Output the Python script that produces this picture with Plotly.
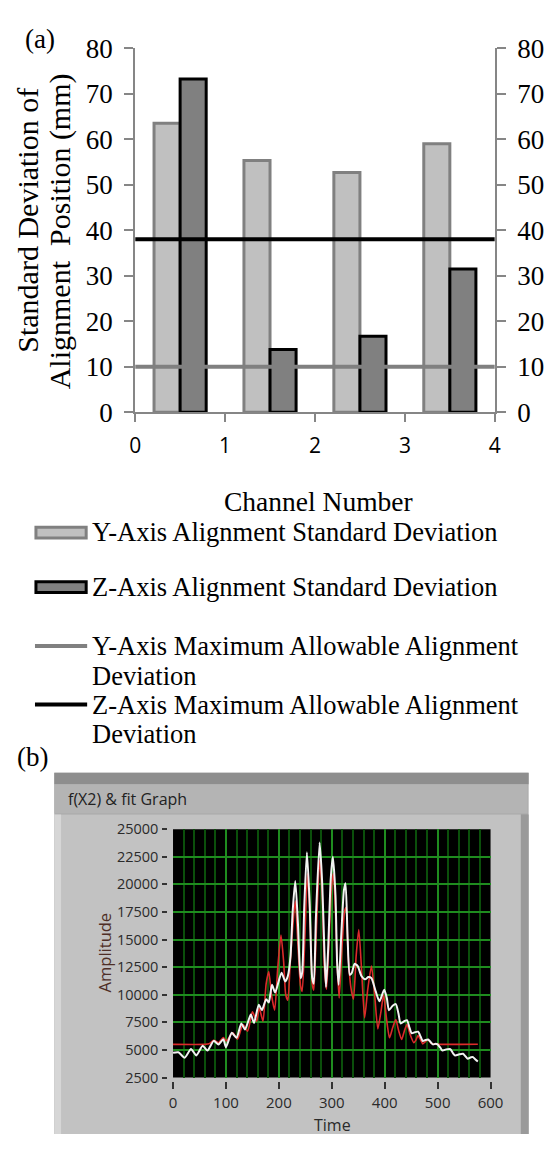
import plotly.graph_objects as go

# ---------------- Panel (a) data ----------------
channel_pos = [0.5, 1.5, 2.5, 3.5]
y_std = [63.5, 55.3, 52.7, 59.0]
z_std = [73.2, 13.8, 16.7, 31.5]
y_limit = 10
z_limit = 38
x_ticks_a = [0, 1, 2, 3, 4]
y_ticks_a = [0, 10, 20, 30, 40, 50, 60, 70, 80]

# ---------------- Panel (b) data ----------------
white_t = [0, 10, 22, 34, 44, 56, 65, 77, 86, 95, 100, 111, 120, 129, 136, 147, 153, 162, 168, 176,
           181, 187, 193, 205, 212, 217, 222, 226, 231, 236, 241, 244, 248, 253, 258, 263, 266, 270, 277, 282,
           286, 289, 293, 298, 302, 307, 310, 313, 318, 323, 326, 330, 334, 338, 343, 349, 356, 363, 369, 375,
           383, 390, 399, 404, 408, 415, 421, 426, 430, 437, 442, 447, 451, 457, 463, 468, 472, 477, 482, 487,
           491, 496, 500, 505, 509, 516, 524, 529, 533, 541, 548, 553, 557, 563, 567, 572, 576]
white_a = [4750, 4790, 4300, 5080, 4500, 5380, 4940, 5820, 5500, 5970, 5250, 6550, 6100, 7400, 6850, 8200, 7450, 9100, 8600, 9600,
           9300, 10900, 10200, 12000, 11200, 11700, 13500, 17500, 20300, 16500, 11500, 12000, 18000, 22900, 18500, 11500, 11000, 17000, 23800, 20000,
           14000, 10700, 14000, 20500, 22500, 19000, 13000, 10900, 15500, 19500, 20100, 15000, 11800, 12000, 12800, 12600, 11700, 11400, 11600, 11500,
           10300, 9400, 10450, 9700, 8600, 9000, 9150, 8300, 7400, 7600, 7700, 7000, 6500, 6600, 6650, 6200, 5800, 5900, 5950, 5700,
           5500, 5550, 5500, 5200, 4950, 5050, 5080, 4700, 4500, 4600, 4650, 4400, 4200, 4330, 4350, 4100, 3950]

red_t = [0, 60, 68, 77, 86, 95, 101, 113, 122, 132, 141, 150, 158, 163, 170, 176, 181, 186, 192, 198,
         204, 209, 213, 217, 221, 226, 231, 236, 241, 244, 249, 254, 259, 263, 266, 271, 277, 282, 286, 290,
         294, 299, 303, 307, 311, 314, 319, 324, 327, 331, 336, 341, 346, 351, 356, 362, 368, 375, 381, 387,
         393, 398, 403, 409, 415, 421, 426, 432, 437, 442, 448, 455, 459, 463, 468, 472, 477, 482, 488, 495, 576]
red_a = [5500, 5500, 5550, 5880, 5650, 6120, 5820, 6560, 5970, 7300, 6700, 8450, 7600, 8800, 7600, 11000, 12100, 10000, 8600, 12500,
         15400, 13000, 10000, 9500, 12500, 16000, 18500, 14500, 10800, 10300, 15000, 21000, 17000, 11000, 10400, 16000, 22200, 19000, 12500, 10500,
         14000, 19500, 21000, 17500, 12000, 9700, 14000, 17500, 17900, 13500, 10700, 9600, 13500, 15900, 12500, 7900, 10500, 12600, 10000, 6900,
         8500, 10000, 8000, 6100, 7000, 7750, 6800, 5950, 6700, 7300, 6400, 5650, 5900, 6300, 5900, 5550, 5750, 5950, 5600, 5520, 5520]
x_ticks_b = [0, 100, 200, 300, 400, 500, 600]
y_ticks_b = [2500, 5000, 7500, 10000, 12500, 15000, 17500, 20000, 22500, 25000]

W, H = 559, 1149
SERIF = "Liberation Serif"
SANS = "Open Sans"


def px(x):
    return x / W


def py(y):
    return 1 - y / H


fig = go.Figure()

# ---- panel (a) traces ----
fig.add_trace(go.Bar(x=channel_pos, y=y_std, name="Y-Axis Alignment Standard Deviation",
                     marker=dict(color="#c0c0c0", line=dict(color="#808080", width=3)),
                     xaxis="x", yaxis="y"))
fig.add_trace(go.Bar(x=channel_pos, y=z_std, name="Z-Axis Alignment Standard Deviation",
                     marker=dict(color="#808080", line=dict(color="#000000", width=3)),
                     xaxis="x", yaxis="y"))
fig.add_trace(go.Scatter(x=[x_ticks_a[0], x_ticks_a[-1]], y=[y_limit, y_limit], mode="lines",
                         name="Y-Axis Maximum Allowable Alignment Deviation",
                         line=dict(color="#808080", width=4), xaxis="x", yaxis="y"))
fig.add_trace(go.Scatter(x=[x_ticks_a[0], x_ticks_a[-1]], y=[z_limit, z_limit], mode="lines",
                         name="Z-Axis Maximum Allowable Alignment Deviation",
                         line=dict(color="#000000", width=4), xaxis="x", yaxis="y"))
# invisible trace for right-hand axis
fig.add_trace(go.Scatter(x=[x_ticks_a[0]], y=[y_ticks_a[0]], mode="markers", marker=dict(opacity=0),
                         hoverinfo="skip", xaxis="x", yaxis="y2"))

# ---- panel (b) traces ----
fig.add_trace(go.Scatter(x=red_t, y=red_a, mode="lines", name="fit", line_shape="spline",
                         line=dict(color="#dc2a2a", width=1.6, smoothing=0.6), xaxis="x3", yaxis="y3"))
fig.add_trace(go.Scatter(x=white_t, y=white_a, mode="lines", name="f(X2)", line_shape="spline",
                         line=dict(color="#f2f2f2", width=2, smoothing=0.6), xaxis="x3", yaxis="y3"))

axis_gray = "#868686"
fig.update_layout(
    width=W, height=H,
    margin=dict(l=0, r=0, t=0, b=0),
    paper_bgcolor="white", plot_bgcolor="white",
    showlegend=False,
    barmode="group", bargap=0.42, bargroupgap=0,
    xaxis=dict(domain=[px(133.7), px(506)], range=[0, 4], tickvals=x_ticks_a,
               showline=True, linecolor=axis_gray, linewidth=2,
               ticks="outside", tickcolor=axis_gray, tickwidth=2, ticklen=8,
               showgrid=False, zeroline=False, anchor="y",
               tickfont=dict(family=SANS, size=21, color="#000"), ticklabelstandoff=5),
    yaxis=dict(domain=[py(408), py(34)], range=[0, 80], tickvals=y_ticks_a,
               showline=True, linecolor=axis_gray, linewidth=2,
               ticks="outside", tickcolor=axis_gray, tickwidth=2, ticklen=9,
               showgrid=False, zeroline=False, anchor="x",
               tickfont=dict(family=SERIF, size=27, color="#000"), ticklabelstandoff=6),
    yaxis2=dict(overlaying="y", side="right", range=[0, 80], tickvals=y_ticks_a,
                showline=True, linecolor=axis_gray, linewidth=2,
                ticks="outside", tickcolor=axis_gray, tickwidth=2, ticklen=9,
                showgrid=False, zeroline=False, anchor="x",
                tickfont=dict(family=SERIF, size=27, color="#000"), ticklabelstandoff=6),
    xaxis3=dict(domain=[px(172.9), px(501.6)], range=[0, 600], tickvals=x_ticks_b,
                showline=False, zeroline=False, anchor="free", position=py(1095),
                ticks="outside", tickcolor="#333", tickwidth=1.5, ticklen=7,
                showgrid=True, gridcolor="#1f8c1f", gridwidth=1.5,
                minor=dict(dtick=20, showgrid=True, gridcolor="#0b4f0b", gridwidth=1.5),
                tickfont=dict(family=SANS, size=15, color="#2a2a2a"), ticklabelstandoff=1),
    yaxis3=dict(domain=[py(1091), py(836)], range=[2500, 25000], tickvals=y_ticks_b,
                tickformat="d",
                showline=False, zeroline=False, anchor="free", position=px(167),
                ticks="outside", tickcolor="#333", tickwidth=1.5, ticklen=5,
                showgrid=True, gridcolor="#1f8c1f", gridwidth=1.5,
                tickfont=dict(family=SANS, size=14.5, color="#2a2a2a"), ticklabelstandoff=1),
)

# ---- panel (b) LabVIEW-style frame (decoration) ----
def rect(x0, y0, x1, y1, color):
    fig.add_shape(type="rect", xref="paper", yref="paper", layer="below",
                  x0=px(x0), x1=px(x1), y0=py(y1), y1=py(y0),
                  fillcolor=color, line=dict(width=0))

rect(50, 778, 541, 1149, "#a8a8a8")
rect(50, 778, 541, 790, "#8e8e8e")
rect(50, 790, 540, 820, "#b4b4b4")
rect(50, 821, 533, 1149, "#c2c2c2")
rect(50, 821, 57, 1149, "#d6d6d6")
rect(533, 821, 541, 1149, "#9a9a9a")

# black plotting area of panel (b)
fig.add_shape(type="rect", xref="x3 domain", yref="y3 domain", layer="below",
              x0=0, x1=1, y0=0, y1=1, fillcolor="#000000", line=dict(width=0))

# ---- legend of panel (a) (drawn manually) ----
fig.add_shape(type="rect", xref="paper", yref="paper", x0=px(31), x1=px(83), y0=py(537), y1=py(526),
              fillcolor="#c0c0c0", line=dict(color="#808080", width=3))
fig.add_shape(type="rect", xref="paper", yref="paper", x0=px(31), x1=px(83), y0=py(593), y1=py(582),
              fillcolor="#808080", line=dict(color="#000000", width=3))
fig.add_shape(type="line", xref="paper", yref="paper", x0=px(30), x1=px(84), y0=py(648), y1=py(648),
              line=dict(color="#808080", width=4))
fig.add_shape(type="line", xref="paper", yref="paper", x0=px(30), x1=px(84), y0=py(708), y1=py(708),
              line=dict(color="#000000", width=4))


def label(text, x, y, size=26.5, family=SERIF, xanchor="left", color="#000", angle=0):
    fig.add_annotation(text=text, x=px(x), y=py(y), xref="paper", yref="paper",
                       xanchor=xanchor, yanchor="middle", showarrow=False, textangle=angle,
                       font=dict(family=family, size=size, color=color))


label("Y-Axis Alignment Standard Deviation", 87, 531)
label("Z-Axis Alignment Standard Deviation", 87, 587)
label("Y-Axis Maximum Allowable Alignment", 87, 648)
label("Deviation", 87, 679)
label("Z-Axis Maximum Allowable Alignment", 87, 708)
label("Deviation", 87, 738)

label("(a)", 35, 25, size=27, xanchor="center")
label("(b)", 27, 762, size=27, xanchor="center")
label("Standard Deviation of", 22, 211, size=30, xanchor="center", angle=-90)
label("Alignment\u00a0 Position (mm)", 56, 222, size=30, xanchor="center", angle=-90)
label("Channel Number", 324, 500, size=27.5, xanchor="center")

label("f(X2) &amp; fit Graph", 62, 805, size=16, family=SANS, color="#222")
label("Amplitude", 102, 963, size=16.5, family=SANS, xanchor="center", color="#4e2e26", angle=-90)
label("Time", 338, 1140, size=16, family=SANS, xanchor="center", color="#2a2a2a")

# remove the browser's default page margin so the figure fills the window exactly
fig.write_html("out.html", config={"displayModeBar": False},
               post_script="document.body.style.margin='0';document.body.style.overflow='hidden';")
